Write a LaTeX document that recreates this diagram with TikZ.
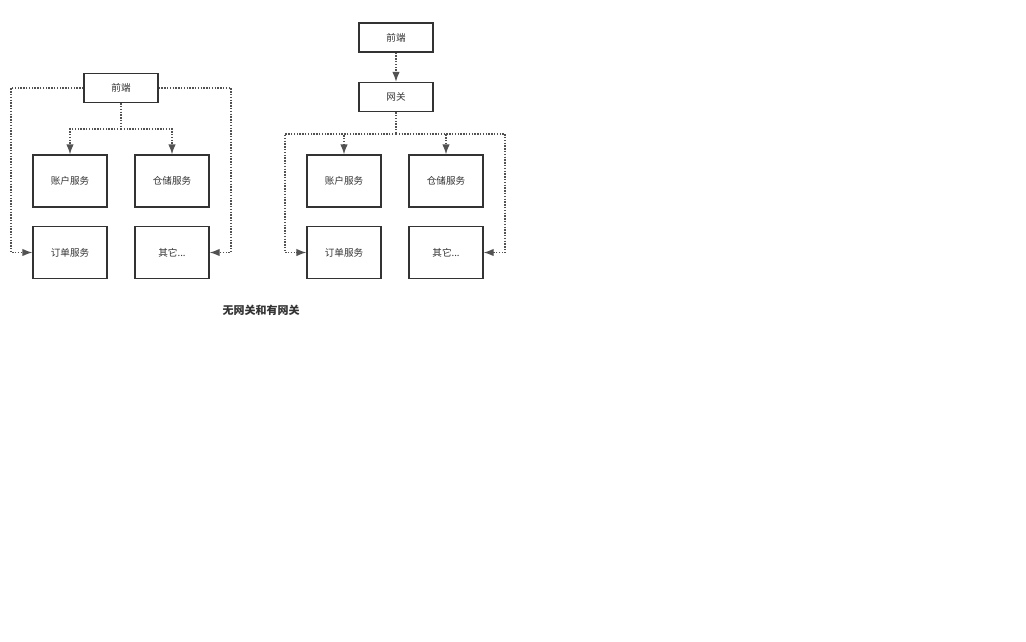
\documentclass[tikz,border=0pt]{standalone}
\usepackage{fontspec}
\setmainfont{Noto Sans CJK SC}
\usetikzlibrary{arrows.meta}
\definecolor{ln}{HTML}{333333}
\begin{document}
\begin{tikzpicture}[x=1pt,y=-1pt,
  svc/.style={draw=ln,line width=1.3pt,fill=white,minimum width=74pt,minimum height=52pt,inner sep=0pt,text=ln,font=\fontsize{9.6}{11}\selectfont},
  top/.style={svc,minimum height=29pt},
  conn/.style={draw=ln!85,line width=1.3pt,dash pattern=on 1.4pt off 1.4pt,-{Latex[length=10pt,width=7.5pt]}},
  plain/.style={draw=ln!85,line width=1.3pt,dash pattern=on 1.4pt off 1.4pt}]
\useasboundingbox (0,0) rectangle (1026,642);
% left diagram
\node[top] (f1) at (121,88) {前端};
\node[svc] (a1) at (70,181) {账户服务};
\node[svc] (w1) at (172,181) {仓储服务};
\node[svc] (o1) at (70,252.5) {订单服务};
\node[svc] (q1) at (172,252.5) {其它...};
\coordinate (j1) at (121,129);
\coordinate (l1) at (11,88);
\coordinate (r1) at (231,88);
\draw[plain] (f1.south) -- (j1);
\draw[conn] (j1) -| (a1.north);
\draw[conn] (j1) -| (w1.north);
\draw[conn] (f1.west) -- (l1) |- (o1.west);
\draw[conn] (f1.east) -- (r1) |- (q1.east);
% right diagram
\node[top] (f2) at (396,37.5) {前端};
\node[top] (g2) at (396,97) {网关};
\node[svc] (a2) at (344,181) {账户服务};
\node[svc] (w2) at (446,181) {仓储服务};
\node[svc] (o2) at (344,252.5) {订单服务};
\node[svc] (q2) at (446,252.5) {其它...};
\coordinate (j2) at (396,134);
\coordinate (l2) at (285,134);
\coordinate (r2) at (505,134);
\draw[conn] (f2.south) -- (g2.north);
\draw[plain] (g2.south) -- (j2);
\draw[conn] (j2) -| (a2.north);
\draw[conn] (j2) -| (w2.north);
\draw[conn] (j2) -- (l2) |- (o2.west);
\draw[conn] (j2) -- (r2) |- (q2.east);
\node[text=ln,font=\fontsize{11}{13}\selectfont\bfseries] (cap) at (261,310) {无网关和有网关};
\end{tikzpicture}
\end{document}
